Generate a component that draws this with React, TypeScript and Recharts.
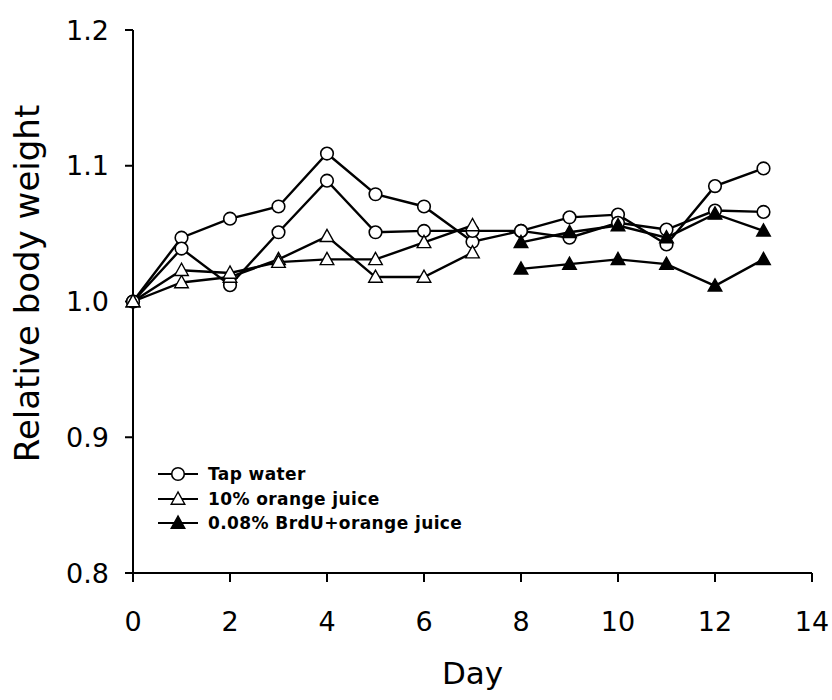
import React from "react";
import { LineChart, Line, XAxis, YAxis } from "recharts";

// Days of measurement
const days = [0, 1, 2, 3, 4, 5, 6, 7, 8, 9, 10, 11, 12, 13];
const brduDays = [8, 9, 10, 11, 12, 13];
const juiceDays = [0, 1, 2, 3, 4, 5, 6, 7];

// Relative body weight per group
const tapWaterA = [1.0, 1.047, 1.061, 1.07, 1.109, 1.079, 1.07, 1.044, 1.052, 1.062, 1.064, 1.042, 1.085, 1.098];
const tapWaterB = [1.0, 1.039, 1.012, 1.051, 1.089, 1.051, 1.052, 1.052, 1.052, 1.047, 1.058, 1.053, 1.067, 1.066];
const orangeJuiceA = [1.0, 1.014, 1.018, 1.031, 1.048, 1.018, 1.018, 1.036];
const orangeJuiceB = [1.0, 1.023, 1.021, 1.029, 1.031, 1.031, 1.0435, 1.056];
const brduJuiceA = [1.0435, 1.051, 1.056, 1.047, 1.0645, 1.052];
const brduJuiceB = [1.024, 1.0275, 1.031, 1.0275, 1.0115, 1.031];

const xTicks = [0, 2, 4, 6, 8, 10, 12, 14];
const yTicks = [0.8, 0.9, 1.0, 1.1, 1.2];

const legendItems = [
  { label: "Tap water", marker: "circle" },
  { label: "10% orange juice", marker: "triangle" },
  { label: "0.08% BrdU+orange juice", marker: "filled" },
];

const FONT = "'DejaVu Sans', Verdana, sans-serif";

const toRows = (xs: number[], ys: number[]) => xs.map((d, i) => ({ day: d, value: ys[i] }));

function Marker({ kind, cx, cy }: { kind: string; cx: number; cy: number }) {
  if (kind === "circle") {
    return <circle cx={cx} cy={cy} r={6.3} fill="#fff" stroke="#000" strokeWidth={1.6} />;
  }
  const pts = `${cx},${cy - 7} ${cx - 6.8},${cy + 5.2} ${cx + 6.8},${cy + 5.2}`;
  return (
    <polygon
      points={pts}
      fill={kind === "filled" ? "#000" : "#fff"}
      stroke="#000"
      strokeWidth={1.4}
      strokeLinejoin="miter"
    />
  );
}

const dotFor = (kind: string) => (props: any) => {
  const { cx, cy, index } = props;
  if (cx == null || cy == null) return <g key={index} />;
  return <Marker key={index} kind={kind} cx={cx} cy={cy} />;
};

function LegendBox() {
  return (
    <div
      style={{
        position: "absolute",
        left: 156,
        top: 462,
        fontFamily: FONT,
        fontWeight: "bold",
        fontSize: 17,
        letterSpacing: 0.4,
        color: "#000",
      }}
    >
      {legendItems.map((it) => (
        <div key={it.label} style={{ display: "flex", alignItems: "center", height: 24.5 }}>
          <svg width={44} height={20} style={{ marginRight: 8 }}>
            <line x1={2} y1={10} x2={42} y2={10} stroke="#000" strokeWidth={2.2} />
            <Marker kind={it.marker} cx={22} cy={10} />
          </svg>
          <span>{it.label}</span>
        </div>
      ))}
    </div>
  );
}

export default function App() {
  const series = [
    { key: "tapA", rows: toRows(days, tapWaterA), kind: "circle" },
    { key: "tapB", rows: toRows(days, tapWaterB), kind: "circle" },
    { key: "ojA", rows: toRows(juiceDays, orangeJuiceA), kind: "triangle" },
    { key: "ojB", rows: toRows(juiceDays, orangeJuiceB), kind: "triangle" },
    { key: "brdA", rows: toRows(brduDays, brduJuiceA), kind: "filled" },
    { key: "brdB", rows: toRows(brduDays, brduJuiceB), kind: "filled" },
  ];

  return (
    <div style={{ position: "absolute", left: 0, top: 0, width: 832, height: 700, background: "#fff" }}>
      <LineChart width={832} height={700} margin={{ top: 30, right: 20, bottom: 0, left: 0 }}>
        <XAxis
          type="number"
          dataKey="day"
          domain={[0, 14]}
          ticks={xTicks}
          allowDuplicatedCategory={false}
          stroke="#000"
          strokeWidth={2}
          tickSize={9}
          tickMargin={30}
          height={127}
          tick={{ fontSize: 27, fill: "#000", fontFamily: FONT }}
          label={{
            value: "Day",
            position: "insideBottom",
            offset: 16,
            style: { fontSize: 31, fill: "#000", fontFamily: FONT },
          }}
        />
        <YAxis
          type="number"
          domain={[0.8, 1.2]}
          ticks={yTicks}
          width={133}
          stroke="#000"
          strokeWidth={2}
          tickSize={8}
          tickMargin={16}
          tickFormatter={(v: number) => v.toFixed(1)}
          tick={{ fontSize: 27, fill: "#000", fontFamily: FONT }}
          label={{
            value: "Relative body weight",
            angle: -90,
            position: "insideLeft",
            offset: 27,
            dy: -18,
            style: { fontSize: 34, fill: "#000", fontFamily: FONT, textAnchor: "middle" },
          }}
        />
        {series.map((s) => (
          <Line
            key={s.key}
            data={s.rows}
            dataKey="value"
            type="linear"
            stroke="#000"
            strokeWidth={2.4}
            dot={dotFor(s.kind)}
            activeDot={false}
            isAnimationActive={false}
            legendType="none"
          />
        ))}
      </LineChart>
      <LegendBox />
    </div>
  );
}
